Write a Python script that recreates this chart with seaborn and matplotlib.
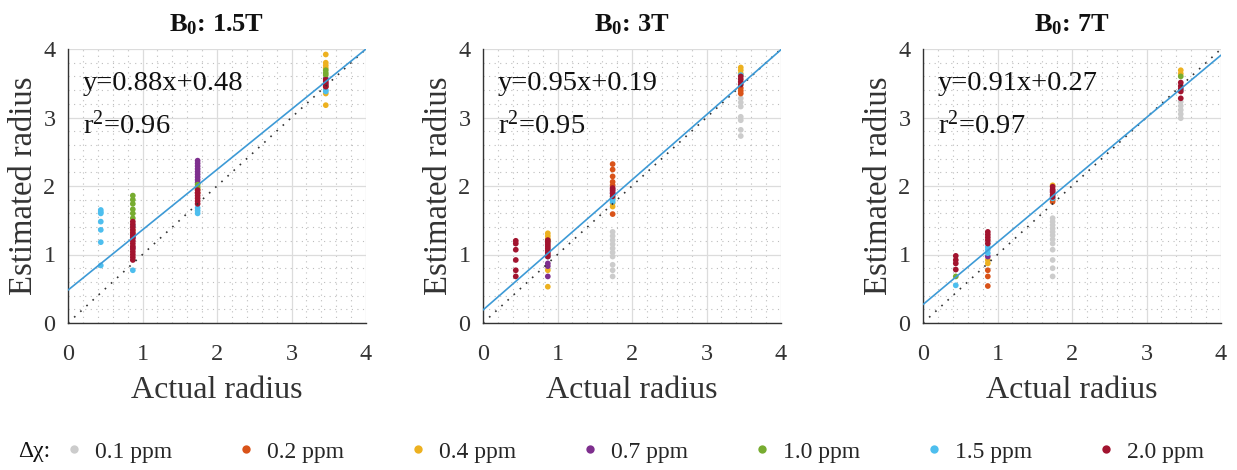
import numpy as np
import pandas as pd
import matplotlib
matplotlib.use("Agg")
import matplotlib.pyplot as plt
import seaborn as sns
from matplotlib.lines import Line2D
from matplotlib.ticker import MultipleLocator

# ---------------- data ----------------
radii = [0.44, 0.87, 1.74, 3.46]
dchi_levels = ["0.1 ppm", "0.2 ppm", "0.4 ppm", "0.7 ppm", "1.0 ppm", "1.5 ppm", "2.0 ppm"]
dchi_colors = ["#cccccc", "#d95319", "#edb120", "#7e2f8e", "#77ac30", "#4dbeee", "#a2142f"]
field_titles = ["1.5T", "3T", "7T"]
fit_slopes = [0.88, 0.95, 0.91]
fit_intercepts = [0.48, 0.19, 0.27]
fit_r2 = [0.96, 0.95, 0.97]
axis_limits = [0, 4]

# B0 = 1.5 T : estimated radius for each actual radius (one list per radius)
b15_01 = [[], [], [], []]
b15_02 = [[], [1.30], [1.90], [3.45]]
b15_04 = [[], [1.35], [1.95], [3.92, 3.80, 3.76, 3.72, 3.35, 3.18]]
b15_07 = [[], [1.25, 1.10], [2.37, 2.33, 2.29, 2.25, 2.21, 2.17, 2.13, 2.09, 2.05], [3.57, 3.50]]
b15_10 = [[], [1.86, 1.80, 1.74, 1.66, 1.60, 1.53], [2.02, 1.98], [3.69, 3.65, 3.62]]
b15_15 = [[1.65, 1.62, 1.60, 1.48, 1.36, 1.18, 0.84], [1.42, 0.77], [1.68, 1.64, 1.60], [3.40, 3.38]]
b15_20 = [[], [1.48, 1.44, 1.40, 1.36, 1.32, 1.28, 1.24, 1.20, 1.16, 1.12, 1.08, 1.04, 1.00, 0.96, 0.92],
          [1.94, 1.90, 1.86, 1.82, 1.78, 1.74], [3.55, 3.52, 3.48, 3.45]]

# B0 = 3 T
b3_01 = [[], [], [1.33, 1.27, 1.21, 1.15, 1.09, 1.03, 0.97, 0.85, 0.77, 0.68],
         [3.28, 3.22, 3.16, 3.01, 2.96, 2.82, 2.73]]
b3_02 = [[], [], [2.32, 2.24, 2.14, 2.06, 2.01, 1.59], [3.43, 3.39, 3.35]]
b3_04 = [[], [1.31, 1.27, 1.23, 0.77, 0.53], [1.75, 1.70], [3.73, 3.69, 3.64]]
b3_07 = [[], [0.87, 0.83, 0.68], [1.95, 1.90], []]
b3_10 = [[], [1.20], [1.82], []]
b3_15 = [[], [0.97], [1.80, 1.77], [3.62]]
b3_20 = [[1.20, 1.16, 1.07, 0.92, 0.77, 0.68], [1.21, 1.18, 1.15, 1.12, 1.09, 1.06, 1.03, 1.00, 0.97],
         [1.97, 1.93, 1.89, 1.85], [3.60, 3.56, 3.52, 3.48]]

# B0 = 7 T
b7_01 = [[], [], [1.53, 1.48, 1.43, 1.38, 1.33, 1.28, 1.22, 1.16, 1.07, 0.92, 0.80, 0.68],
         [3.23, 3.17, 3.11, 3.05, 2.99]]
b7_02 = [[], [0.77, 0.68, 0.54], [1.80, 1.77], []]
b7_04 = [[], [0.92, 0.87], [2.01], [3.69, 3.64]]
b7_07 = [[], [0.97], [1.93], []]
b7_10 = [[0.68], [], [], [3.60]]
b7_15 = [[0.55], [1.11, 1.07, 1.02], [1.82], [3.40]]
b7_20 = [[0.98, 0.92, 0.87, 0.78], [1.33, 1.29, 1.25, 1.21, 1.16], [1.99, 1.95, 1.91, 1.87, 1.84],
         [3.51, 3.46, 3.42, 3.38, 3.28]]

panels = [
    [b15_01, b15_02, b15_04, b15_07, b15_10, b15_15, b15_20],
    [b3_01, b3_02, b3_04, b3_07, b3_10, b3_15, b3_20],
    [b7_01, b7_02, b7_04, b7_07, b7_10, b7_15, b7_20],
]

# ---------------- style ----------------
sns.set_theme(style="white")
plt.rcParams["font.family"] = ["Liberation Serif", "DejaVu Serif"]
plt.rcParams["mathtext.fontset"] = "custom"
plt.rcParams["mathtext.rm"] = "Liberation Serif"
plt.rcParams["mathtext.it"] = "Liberation Serif:italic"
plt.rcParams["mathtext.bf"] = "Liberation Serif:bold"

W, H = 1237, 470
fig = plt.figure(figsize=(W / 100, H / 100), dpi=100)
lefts_px = [68, 483, 923]
ax_w, ax_h = 298 / W, 274 / H
ax_b = 1 - 323 / H

palette = dict(zip(dchi_levels, dchi_colors))

for i, series in enumerate(panels):
    rows = []
    for lvl, s in zip(dchi_levels, series):
        for r, vals in zip(radii, s):
            for v in vals:
                rows.append({"dchi": lvl, "actual": r, "estimated": v})
    df = pd.DataFrame(rows)

    ax = fig.add_axes([lefts_px[i] / W, ax_b, ax_w, ax_h])
    ax.set_xlim(axis_limits)
    ax.set_ylim(axis_limits)
    ax.xaxis.set_major_locator(MultipleLocator(1))
    ax.yaxis.set_major_locator(MultipleLocator(1))
    ax.xaxis.set_minor_locator(MultipleLocator(0.2))
    ax.yaxis.set_minor_locator(MultipleLocator(0.2))
    ax.grid(which="major", color="#dcdcdc", linewidth=0.9, linestyle="-")
    ax.grid(which="minor", color="#bdbdbd", linewidth=0.8, linestyle=(0, (1, 4)))
    ax.set_axisbelow(True)

    sns.scatterplot(data=df, x="actual", y="estimated", hue="dchi", hue_order=dchi_levels,
                    palette=palette, s=17, linewidth=0, legend=False, ax=ax, zorder=2)

    xl = np.array(axis_limits, dtype=float)
    ax.plot(xl, xl, color="#333333", linewidth=1.2, linestyle=(0, (1, 4)), zorder=3)
    ax.plot(xl, fit_slopes[i] * xl + fit_intercepts[i], color="#3d9ad6", linewidth=1.2, zorder=4)

    ax.text(0.2, 3.5, f"y={fit_slopes[i]:.2f}x+{fit_intercepts[i]:.2f}", fontsize=20.5,
            va="center", ha="left", color="#111111")
    ax.text(0.2, 2.89, f"r$^2$={fit_r2[i]:.2f}", fontsize=20.5, va="center", ha="left",
            color="#111111")

    for side in ["top", "right"]:
        ax.spines[side].set_visible(False)
    for side in ["left", "bottom"]:
        ax.spines[side].set_color("#333333")
        ax.spines[side].set_linewidth(1.0)
    ax.tick_params(axis="x", which="major", direction="in", length=4, width=0.8, color="#333333",
                   labelsize=17.5, pad=15, labelcolor="#333333")
    ax.tick_params(axis="y", which="major", direction="in", length=4, width=0.8, color="#333333",
                   labelsize=17.5, pad=9, labelcolor="#333333")
    ax.tick_params(which="minor", length=0)

    ax.set_xlabel("Actual radius", fontsize=23, color="#333333", labelpad=8)
    ax.set_ylabel("Estimated radius", fontsize=23.5, color="#333333", labelpad=3)
    ax.set_title(r"$\mathbf{B_0}$: " + field_titles[i], fontsize=19, fontweight="bold",
                 pad=13, color="#111111")

# ---------------- legend ----------------
handles = [Line2D([0], [0], marker="o", linestyle="", markersize=6, markerfacecolor=c,
                  markeredgewidth=0) for c in dchi_colors]
fig.text(18 / W, 1 - 452 / H, "Δχ:", fontsize=17, va="center", ha="left", color="#111111")
fig.legend(handles, dchi_levels, loc="center left", bbox_to_anchor=(62 / W, 1 - 452 / H),
           ncol=7, frameon=False, fontsize=17, handlelength=1.0, handletextpad=0.4,
           columnspacing=2.62, borderpad=0, borderaxespad=0)

fig.savefig("out.png", dpi=100)
